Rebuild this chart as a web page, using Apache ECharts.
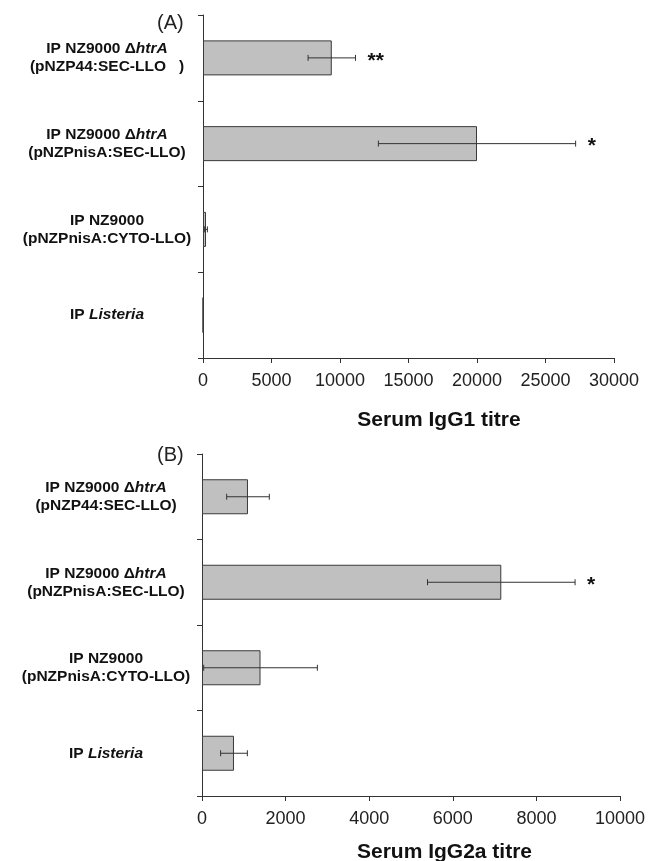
<!DOCTYPE html>
<html>
<head>
<meta charset="utf-8">
<script src="https://cdn.jsdelivr.net/npm/echarts@6/dist/echarts.min.js"></script>
<style>
html,body{margin:0;padding:0;background:#fff;}
#chart{width:657px;height:861px;}
</style>
</head>
<body>
<div id="chart"></div>
<script>
// ---- data ----
const categoriesA = ['IP NZ9000 ΔhtrA\n(pNZP44:SEC-LLO   )', 'IP NZ9000 ΔhtrA\n(pNZPnisA:SEC-LLO)', 'IP NZ9000\n(pNZPnisA:CYTO-LLO)', 'IP Listeria'];
const categoriesB = ['IP NZ9000 ΔhtrA\n(pNZP44:SEC-LLO)', 'IP NZ9000 ΔhtrA\n(pNZPnisA:SEC-LLO)', 'IP NZ9000\n(pNZPnisA:CYTO-LLO)', 'IP Listeria'];
const igg1Mean = [9400, 20000, 220, 0];
const igg1Err = [1730, 7200, 100, 0];
const igg1Sig = ['**', '*', '', ''];
const igg2aMean = [1100, 7160, 1400, 765];
const igg2aErr = [510, 1765, 1360, 320];
const igg2aSig = ['', '*', '', ''];
const ticksA = [0, 5000, 10000, 15000, 20000, 25000, 30000];
const ticksB = [0, 2000, 4000, 6000, 8000, 10000];

// ---- styles ----
const FONT = 'Arial, "Liberation Sans", sans-serif';
const AXIS = '#333';

function fmtCat(v) {
  return v.replace('htrA', '{i|htrA}').replace('Listeria', '{i|Listeria}');
}

function errData(mean, err) {
  return mean.map((m, i) => [i, m - err[i], m + err[i]]);
}

function makeErrRender(sig) {
  return function (params, api) {
    const cat = api.value(0);
    const lo = api.value(1), hi = api.value(2);
    const children = [];
    const pLo = api.coord([lo, cat]);
    const pHi = api.coord([hi, cat]);
    const capH = 3;
    if (hi > lo) {
      children.push({type: 'line', shape: {x1: pLo[0], y1: pLo[1], x2: pHi[0], y2: pHi[1]}, style: {stroke: AXIS, lineWidth: 1}});
      children.push({type: 'line', shape: {x1: pLo[0], y1: pLo[1] - capH, x2: pLo[0], y2: pLo[1] + capH}, style: {stroke: AXIS, lineWidth: 1}});
      children.push({type: 'line', shape: {x1: pHi[0], y1: pHi[1] - capH, x2: pHi[0], y2: pHi[1] + capH}, style: {stroke: AXIS, lineWidth: 1}});
    }
    const s = sig[params.dataIndex];
    if (s) {
      children.push({type: 'text', x: pHi[0] + 12, y: pHi[1] + 3,
        style: {text: s, fill: '#111', font: 'bold 21px ' + FONT, textAlign: 'left', textVerticalAlign: 'middle'}});
    }
    return {type: 'group', children: children};
  };
}

function yAxisOpt(gridIndex, cats) {
  return {
    type: 'category', gridIndex: gridIndex, data: cats, inverse: true,
    axisLine: {lineStyle: {color: AXIS, width: 1}},
    axisTick: {show: true, length: 5, lineStyle: {color: AXIS}},
    axisLabel: {
      formatter: fmtCat, margin: 96, align: 'center',
      color: '#111', fontFamily: FONT, fontSize: 15.5, fontWeight: 'bold', lineHeight: 18,
      rich: {i: {fontStyle: 'italic', fontWeight: 'bold', fontSize: 15.5, fontFamily: FONT, color: '#111', lineHeight: 18}}
    }
  };
}

function xAxisOpt(gridIndex, ticks, name, shift, gap) {
  return {
    type: 'value', gridIndex: gridIndex, min: ticks[0], max: ticks[ticks.length - 1],
    interval: ticks[1] - ticks[0],
    axisLine: {show: true, lineStyle: {color: AXIS, width: 1}},
    axisTick: {show: true, length: 5, lineStyle: {color: AXIS}},
    splitLine: {show: false},
    axisLabel: {color: '#222', fontFamily: FONT, fontSize: 18, margin: 14, formatter: v => String(v)},
    name: name, nameLocation: 'middle', nameGap: gap,
    nameTextStyle: {color: '#111', fontFamily: FONT, fontSize: 21, fontWeight: 'bold', padding: [0, 0, 0, shift]}
  };
}

const barStyle = {color: '#c0c0c0', borderColor: '#3a3a3a', borderWidth: 1};

const option = {
  animation: false,
  backgroundColor: '#fff',
  grid: [
    {left: 203, top: 15, width: 411, height: 343, outerBoundsMode: 'none'},
    {left: 202, top: 454, width: 418, height: 342, outerBoundsMode: 'none'}
  ],
  xAxis: [
    xAxisOpt(0, ticksA, 'Serum IgG1 titre', 61, 52),
    xAxisOpt(1, ticksB, 'Serum IgG2a titre', 67, 46)
  ],
  yAxis: [yAxisOpt(0, categoriesA), yAxisOpt(1, categoriesB)],
  graphic: [
    {type: 'text', left: 157, top: 13, style: {text: '(A)', font: '20px ' + FONT, fill: '#222'}},
    {type: 'text', left: 157, top: 445, style: {text: '(B)', font: '20px ' + FONT, fill: '#222'}}
  ],
  series: [
    {type: 'bar', xAxisIndex: 0, yAxisIndex: 0, data: igg1Mean, barWidth: 35, itemStyle: barStyle},
    {type: 'custom', xAxisIndex: 0, yAxisIndex: 0, data: errData(igg1Mean, igg1Err),
      encode: {x: [1, 2], y: 0}, renderItem: makeErrRender(igg1Sig), z: 5},
    {type: 'bar', xAxisIndex: 1, yAxisIndex: 1, data: igg2aMean, barWidth: 35, itemStyle: barStyle},
    {type: 'custom', xAxisIndex: 1, yAxisIndex: 1, data: errData(igg2aMean, igg2aErr),
      encode: {x: [1, 2], y: 0}, renderItem: makeErrRender(igg2aSig), z: 5}
  ]
};

const chart = echarts.init(document.getElementById('chart'), null, {renderer: 'canvas'});
chart.setOption(option);
</script>
</body>
</html>
